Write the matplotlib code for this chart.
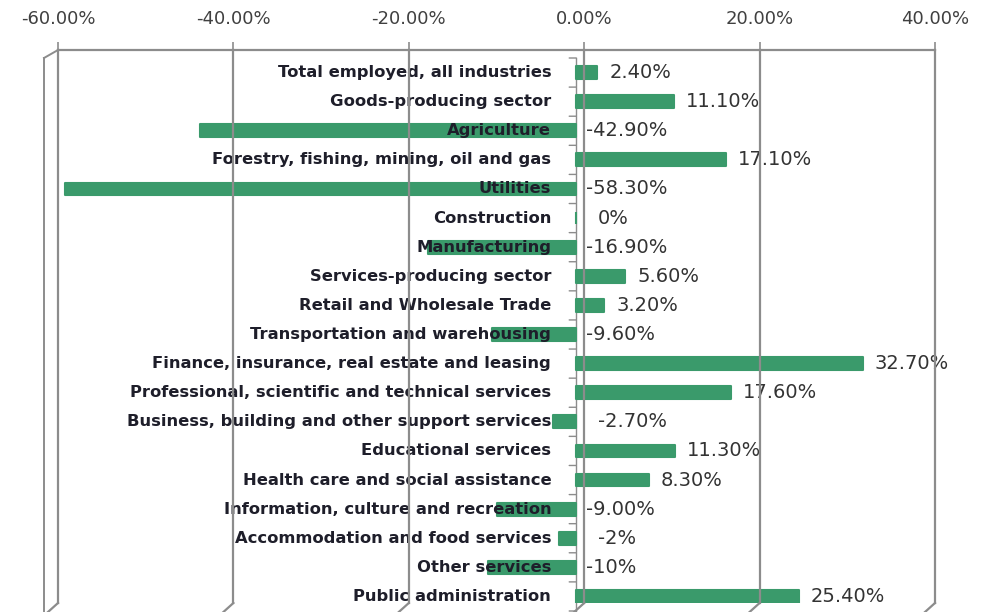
import matplotlib
matplotlib.use('Agg')
import matplotlib.pyplot as plt
import matplotlib.transforms as mtransforms

categories = [
    "Total employed, all industries",
    "Goods-producing sector",
    "Agriculture",
    "Forestry, fishing, mining, oil and gas",
    "Utilities",
    "Construction",
    "Manufacturing",
    "Services-producing sector",
    "Retail and Wholesale Trade",
    "Transportation and warehousing",
    "Finance, insurance, real estate and leasing",
    "Professional, scientific and technical services",
    "Business, building and other support services",
    "Educational services",
    "Health care and social assistance",
    "Information, culture and recreation",
    "Accommodation and food services",
    "Other services",
    "Public administration",
]
values = [2.4, 11.1, -42.9, 17.1, -58.3, 0.0, -16.9, 5.6, 3.2, -9.6,
          32.7, 17.6, -2.7, 11.3, 8.3, -9.0, -2.0, -10.0, 25.4]
value_labels = ["2.40%", "11.10%", "-42.90%", "17.10%", "-58.30%", "0%",
                "-16.90%", "5.60%", "3.20%", "-9.60%", "32.70%", "17.60%",
                "-2.70%", "11.30%", "8.30%", "-9.00%", "-2%", "-10%", "25.40%"]
xticks = [-60, -40, -20, 0, 20, 40]
xtick_labels = ["-60.00%", "-40.00%", "-20.00%", "0.00%", "20.00%", "40.00%"]

W, H = 991, 612
fig = plt.figure(figsize=(W / 100, H / 100), dpi=100)
left_px, right_px, top_px, bot_px = 58, 935, 50, 603
ax = fig.add_axes([left_px / W, 1 - bot_px / H, (right_px - left_px) / W, (bot_px - top_px) / H])
ax.set_xlim(-60, 40)
n = len(categories)
ax.set_ylim(n - 0.5, -0.5)

grid_c = '#8c8c8c'
bar_c = '#3a9a6b'

# front-plane offset (3D depth)
dx, dy = -8 / 100, -8 / 100
front = ax.transData + mtransforms.ScaledTranslation(dx, dy, fig.dpi_scale_trans)
front_blend = mtransforms.blended_transform_factory(ax.transData, ax.transAxes) + \
    mtransforms.ScaledTranslation(dx, dy, fig.dpi_scale_trans)
back_blend = mtransforms.blended_transform_factory(ax.transData, ax.transAxes)

# back-wall gridlines
for t in xticks:
    ax.plot([t, t], [0, 1], color=grid_c, lw=1.6, transform=back_blend, clip_on=False, zorder=5)
# floor slants at bottom
for t in xticks:
    p0 = back_blend.transform((t, 0))
    p1 = front_blend.transform((t, 0))
    p1 = (p1[0] - 2, p1[1] - 1)
    fig.add_artist(plt.Line2D([p0[0] / W, p1[0] / W], [p0[1] / H, p1[1] / H],
                              color=grid_c, lw=1.6, transform=fig.transFigure))

# left side wall
p_top_b = back_blend.transform((-60, 1))
p_top_f = front_blend.transform((-60, 1))
p_bot_f = front_blend.transform((-60, 0))
p_top_f = (p_top_f[0] - 6, p_top_f[1])
p_bot_f = (p_bot_f[0] - 6, p_bot_f[1])
for (a, b) in [(p_top_b, p_top_f), (p_top_f, p_bot_f)]:
    fig.add_artist(plt.Line2D([a[0] / W, b[0] / W], [a[1] / H, b[1] / H],
                              color=grid_c, lw=1.4, transform=fig.transFigure))

# bars on front plane
ax.barh(range(n), values, height=0.44, color=bar_c, edgecolor=bar_c, lw=1.5,
        joinstyle='round', transform=front, zorder=3)

# front category axis line and ticks
ax.plot([0, 0], [0, 1], color=grid_c, lw=1.0, transform=front_blend, clip_on=False, zorder=2)
for i in range(n + 1):
    ax.annotate('', xy=(0, i - 0.5), xycoords=front, xytext=(-7, 0), textcoords='offset pixels',
                arrowprops=dict(arrowstyle='-', color=grid_c, lw=1.0, shrinkA=0, shrinkB=0))

# category labels
for i, c in enumerate(categories):
    ax.annotate(c, xy=(0, i), xycoords=front, xytext=(-25, 0), textcoords='offset pixels',
                ha='right', va='center', fontsize=11.8, fontfamily='DejaVu Sans', fontweight='bold',
                color='#1e1e2a', zorder=4)

# value labels
for i, (v, lab) in enumerate(zip(values, value_labels)):
    if v > 0:
        off = 12
        x = v
    else:
        off = 10 if v < -5 else 22
        x = 0
    ax.annotate(lab, xy=(x, i), xycoords=front, xytext=(off, 0), textcoords='offset pixels',
                ha='left', va='center', fontsize=14, fontfamily='DejaVu Sans',
                color='#333333', zorder=4)

# top axis
ax.xaxis.tick_top()
ax.set_xticks(xticks)
ax.set_xticklabels(xtick_labels, fontsize=13, fontfamily='DejaVu Sans', color='#404040')
ax.tick_params(axis='x', length=6, color=grid_c, width=1.2, pad=10)
ax.set_yticks([])
for s in ['left', 'right', 'bottom']:
    ax.spines[s].set_visible(False)
ax.spines['top'].set_color(grid_c)
ax.spines['top'].set_linewidth(1.6)
ax.patch.set_alpha(0)

fig.savefig('out.png', dpi=100)
